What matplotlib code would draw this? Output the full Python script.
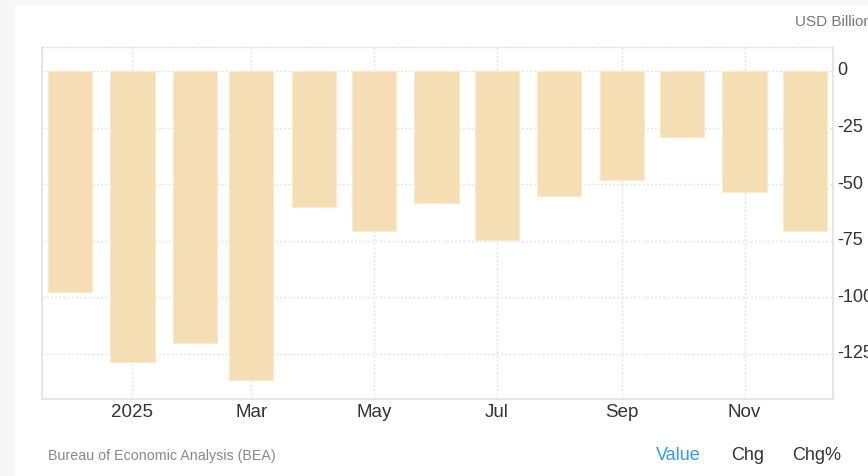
import datetime as dt
import matplotlib
matplotlib.use("Agg")
import matplotlib.pyplot as plt
from matplotlib.patches import Rectangle
from matplotlib.transforms import ScaledTranslation

# US trade balance, USD billion (Dec 2024 - Dec 2025)
months = ["2024-12", "2025-01", "2025-02", "2025-03", "2025-04", "2025-05", "2025-06",
          "2025-07", "2025-08", "2025-09", "2025-10", "2025-11", "2025-12"]
values = [-97.5, -128.7, -120.3, -136.5, -60.2, -70.8, -58.2,
          -74.5, -55.4, -48.0, -29.0, -53.3, -70.6]
tick_dates = ["2025-01", "2025-03", "2025-05", "2025-07", "2025-09", "2025-11"]
tick_labels = ["2025", "Mar", "May", "Jul", "Sep", "Nov"]
y_ticks = [0, -25, -50, -75, -100, -125]

plt.rcParams["font.family"] = ["Liberation Sans", "DejaVu Sans"]

dates = [dt.datetime.strptime(m, "%Y-%m") for m in months]
tdates = [dt.datetime.strptime(m, "%Y-%m") for m in tick_dates]

fig = plt.figure(figsize=(8.68, 4.77), dpi=100)
fig.patch.set_facecolor("white")
# light grey page margin at left and top
fig.patches.append(Rectangle((0, 0), 14 / 868, 1, transform=fig.transFigure,
                             color="#f7f7f7", zorder=-10))
fig.patches.append(Rectangle((0, 1 - 5 / 477), 1, 5 / 477, transform=fig.transFigure,
                             color="#f7f7f7", zorder=-10))

ax = fig.add_axes([41.5 / 868, 1 - 400 / 477, (833.3 - 41.5) / 868, (400 - 48) / 477])
ax.bar(dates, values, width=21.9, color="#f5deb3", edgecolor="#fbead0",
       linewidth=0.8, zorder=3)

ax.set_xlim(dates[0] - dt.timedelta(days=14.2), dates[-1] + dt.timedelta(days=14.1))
ax.set_ylim(-144.9, 10.6)

ax.set_xticks(tdates)
ax.set_xticklabels(tick_labels)
ax.set_yticks(y_ticks)
ax.set_yticklabels([str(v) for v in y_ticks])
ax.yaxis.tick_right()
ax.tick_params(axis="y", length=0, pad=3, labelsize=13, labelcolor="#333333")
ax.tick_params(axis="x", length=0, pad=3, labelsize=13.5, labelcolor="#333333")
# y labels sit a little above their gridlines
shift = ScaledTranslation(0, 3 / 100, fig.dpi_scale_trans)
for lab in ax.get_yticklabels():
    lab.set_transform(lab.get_transform() + shift)

ax.grid(True, color="#e4e4e4", linestyle=(0, (1.5, 1.5)), linewidth=1, zorder=0)

for side in ["left", "right", "bottom"]:
    ax.spines[side].set_color("#e2e2e2")
    ax.spines[side].set_linewidth(1.2)
ax.spines["top"].set_color("#e4e4e4")
ax.spines["top"].set_linestyle((0, (1.5, 1.5)))
ax.spines["top"].set_linewidth(1)

fig.text(795 / 868, 1 - 22 / 477, "USD Billion", fontsize=11, color="#777777",
         va="center", ha="left")
fig.text(48 / 868, 1 - 456 / 477, "Bureau of Economic Analysis (BEA)", fontsize=10.3,
         color="#888888", va="center", ha="left")
fig.text(656 / 868, 1 - 456 / 477, "Value", fontsize=13, color="#3399ee",
         va="center", ha="left")
fig.text(731 / 868, 1 - 456 / 477, "Chg", fontsize=13, color="#333333",
         va="center", ha="left")
fig.text(792 / 868, 1 - 456 / 477, "Chg%", fontsize=13, color="#333333",
         va="center", ha="left")

fig.savefig("out.png", dpi=100)
